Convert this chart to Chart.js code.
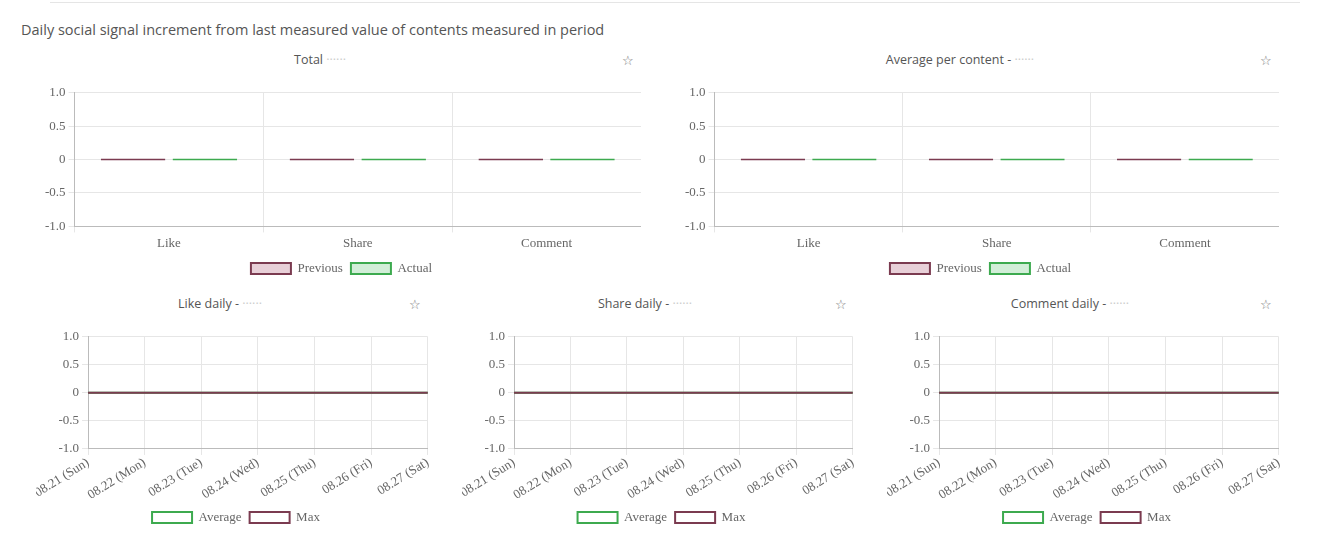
<!DOCTYPE html><html><head><meta charset="utf-8">
<script src="https://cdn.jsdelivr.net/npm/chart.js@4"></script>
<style>
body{margin:0;background:#fff;width:1320px;height:549px;position:relative;overflow:hidden;font-family:"Open Sans",sans-serif}
.h{position:absolute;left:21px;top:20px;font-size:14.5px;color:#555}
.t{position:absolute;font-size:12.5px;color:#555;text-align:center}
.s{position:absolute;font-size:13px;color:#777}
.c{position:absolute}
.line{position:absolute;left:50px;top:2px;width:1250px;height:1px;background:#e5e5e5}
</style></head><body>
<div class="line"></div>
<div class="h">Daily social signal increment from last measured value of contents measured in period</div>
<div class="t" style="left:160px;top:51px;width:320px">Total <span style="color:#ccc">······</span></div>
<div class="s" style="left:622px;top:51px">☆</div>
<div class="t" style="left:800px;top:51px;width:320px">Average per content - <span style="color:#ccc">······</span></div>
<div class="s" style="left:1260px;top:51px">☆</div>
<div class="t" style="left:60px;top:295px;width:320px">Like daily - <span style="color:#ccc">······</span></div>
<div class="s" style="left:409px;top:295px">☆</div>
<div class="t" style="left:485px;top:295px;width:320px">Share daily - <span style="color:#ccc">······</span></div>
<div class="s" style="left:835px;top:295px">☆</div>
<div class="t" style="left:910px;top:295px;width:320px">Comment daily - <span style="color:#ccc">······</span></div>
<div class="s" style="left:1260px;top:295px">☆</div>
<div class="c" style="left:42px;top:82px;width:599px;height:203px"><canvas id="b1"></canvas></div>
<div class="c" style="left:682px;top:82px;width:597px;height:203px"><canvas id="b2"></canvas></div>
<div class="c" style="left:36px;top:326px;width:400px;height:208px"><canvas id="l1"></canvas></div>
<div class="c" style="left:462px;top:326px;width:399px;height:208px"><canvas id="l2"></canvas></div>
<div class="c" style="left:887px;top:326px;width:400px;height:208px"><canvas id="l3"></canvas></div>
<script>
const categories=["Like","Share","Comment"];
const totalPrevious=[0,0,0], totalActual=[0,0,0];
const avgPrevious=[0,0,0], avgActual=[0,0,0];
const days=["08.21 (Sun)","08.22 (Mon)","08.23 (Tue)","08.24 (Wed)","08.25 (Thu)","08.26 (Fri)","08.27 (Sat)"];
const likeAvg=[0,0,0,0,0,0,0], likeMax=[0,0,0,0,0,0,0];
const shareAvg=[0,0,0,0,0,0,0], shareMax=[0,0,0,0,0,0,0];
const commentAvg=[0,0,0,0,0,0,0], commentMax=[0,0,0,0,0,0,0];
const yTicks=[-1,-0.5,0,0.5,1];
const MAR='#7b3b50',GRN='#3daa4f';
Chart.defaults.font.family='"Liberation Serif",serif';
Chart.defaults.font.size=13;
Chart.defaults.color='#666';
const yScale={min:-1,max:1,afterBuildTicks:s=>{s.ticks=yTicks.map(v=>({value:v}))},
 ticks:{callback:v=>v===0?'0':v.toFixed(1)},grid:{color:'#e6e6e6',tickLength:6},border:{color:'#bbb'}};
function legend(){return {position:'bottom',labels:{boxWidth:40,boxHeight:11,padding:8,font:{size:13},sort:(a,b)=>a.datasetIndex-b.datasetIndex}}}
function bar(id,p,a){new Chart(document.getElementById(id),{type:'bar',data:{labels:categories,datasets:[
 {label:'Previous',data:p,backgroundColor:'#e8d0d8',borderColor:MAR,borderWidth:2,minBarLength:2,borderSkipped:false,categoryPercentage:0.76,barPercentage:0.9},
 {label:'Actual',data:a,backgroundColor:'#d2eed8',borderColor:GRN,borderWidth:2,minBarLength:2,borderSkipped:false,categoryPercentage:0.76,barPercentage:0.9}]},
 options:{responsive:true,maintainAspectRatio:false,animation:false,plugins:{legend:legend(),tooltip:{enabled:false}},
 scales:{x:{grid:{color:'#e6e6e6',tickLength:6},border:{color:'#bbb'}},y:yScale}}});}
function line(id,av,mx){new Chart(document.getElementById(id),{type:'line',data:{labels:days,datasets:[
 {label:'Average',data:av,borderColor:GRN,backgroundColor:'#fff',borderWidth:2,pointRadius:0,fill:false,order:2,tension:0},
 {label:'Max',data:mx,borderColor:MAR,backgroundColor:'#fff',borderWidth:2,pointRadius:0,fill:false,order:1,tension:0}]},
 options:{responsive:true,maintainAspectRatio:false,animation:false,plugins:{legend:legend(),tooltip:{enabled:false}},
 scales:{x:{ticks:{maxRotation:32,minRotation:32,autoSkip:false,padding:0},grid:{color:'#e6e6e6',tickLength:6},border:{color:'#bbb'}},y:yScale}}});}
bar('b1',totalPrevious,totalActual);bar('b2',avgPrevious,avgActual);
line('l1',likeAvg,likeMax);line('l2',shareAvg,shareMax);line('l3',commentAvg,commentMax);
</script></body></html>
